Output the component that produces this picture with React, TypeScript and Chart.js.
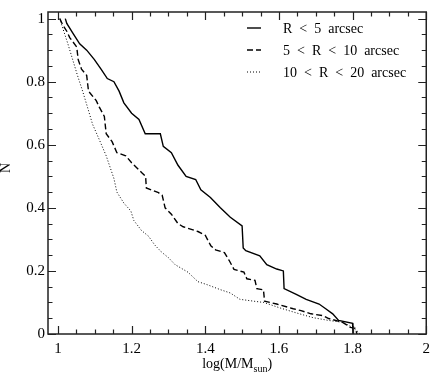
import React, { useEffect, useRef } from "react";
import { Chart, registerables } from "chart.js";

Chart.register(...registerables);

// R < 5 arcsec
const solidX = [1.020, 1.024, 1.040, 1.059, 1.078, 1.099, 1.117, 1.134, 1.152, 1.166, 1.179, 1.200, 1.220, 1.237, 1.278, 1.286, 1.308, 1.326, 1.348, 1.374, 1.388, 1.414, 1.441, 1.468, 1.500, 1.503, 1.510, 1.548, 1.567, 1.594, 1.612, 1.614, 1.647, 1.674, 1.709, 1.727, 1.746, 1.762, 1.800, 1.801];
const solidY = [1.000, 0.985, 0.955, 0.920, 0.900, 0.870, 0.840, 0.810, 0.800, 0.770, 0.733, 0.700, 0.680, 0.635, 0.635, 0.595, 0.575, 0.535, 0.500, 0.490, 0.457, 0.433, 0.400, 0.370, 0.343, 0.273, 0.264, 0.248, 0.220, 0.206, 0.200, 0.144, 0.126, 0.110, 0.095, 0.080, 0.064, 0.043, 0.034, 0.000];

// 5 < R < 10 arcsec
const dashX = [1.005, 1.013, 1.024, 1.032, 1.051, 1.055, 1.064, 1.078, 1.083, 1.104, 1.112, 1.126, 1.131, 1.147, 1.160, 1.184, 1.200, 1.227, 1.238, 1.240, 1.273, 1.283, 1.291, 1.308, 1.326, 1.340, 1.380, 1.400, 1.415, 1.428, 1.452, 1.465, 1.478, 1.505, 1.513, 1.535, 1.540, 1.558, 1.561, 1.594, 1.639, 1.660, 1.687, 1.720, 1.735, 1.773, 1.794, 1.807, 1.812];
const dashY = [1.000, 0.980, 0.960, 0.940, 0.910, 0.870, 0.840, 0.820, 0.770, 0.740, 0.720, 0.690, 0.635, 0.610, 0.575, 0.565, 0.543, 0.512, 0.500, 0.463, 0.448, 0.440, 0.400, 0.380, 0.350, 0.340, 0.325, 0.313, 0.280, 0.267, 0.258, 0.233, 0.205, 0.196, 0.175, 0.170, 0.144, 0.140, 0.104, 0.095, 0.080, 0.074, 0.064, 0.058, 0.049, 0.037, 0.021, 0.018, 0.000];

// 10 < R < 20 arcsec
const dotX = [1.005, 1.013, 1.027, 1.040, 1.053, 1.067, 1.080, 1.094, 1.112, 1.131, 1.152, 1.160, 1.179, 1.198, 1.206, 1.227, 1.246, 1.263, 1.281, 1.300, 1.318, 1.353, 1.380, 1.406, 1.440, 1.468, 1.494, 1.532, 1.559, 1.602, 1.647, 1.692, 1.735, 1.773, 1.800, 1.816, 1.820];
const dotY = [1.000, 0.970, 0.920, 0.870, 0.820, 0.770, 0.720, 0.665, 0.617, 0.565, 0.493, 0.450, 0.415, 0.390, 0.360, 0.328, 0.310, 0.282, 0.260, 0.242, 0.220, 0.196, 0.166, 0.156, 0.141, 0.130, 0.110, 0.104, 0.100, 0.083, 0.067, 0.052, 0.043, 0.037, 0.021, 0.006, 0.000];

const seriesLabels = ["R  <  5  arcsec", "5  <  R  <  10  arcsec", "10  <  R  <  20  arcsec"];
const xMajor = [1, 1.2, 1.4, 1.6, 1.8, 2];
const yMajor = [0, 0.2, 0.4, 0.6, 0.8, 1];
const X_MIN = 0.973, X_MAX = 2.0, Y_MIN = 0, Y_MAX = 1.021;

const FONT = '"Liberation Serif", "Times New Roman", serif';
const dashes = [[], [6, 3], [1, 2]];
const widths = [1.4, 1.4, 1];

const pts = (xs: number[], ys: number[]) => xs.map((x, i) => ({ x, y: ys[i] }));

const decor = {
  id: "decor",
  afterDraw(chart: any) {
    const { ctx, chartArea, scales } = chart;
    const { left, right, top, bottom } = chartArea;
    const xs = scales.x, ys = scales.y;
    ctx.save();
    ctx.strokeStyle = "#222";
    ctx.lineWidth = 1.5;
    ctx.strokeRect(left, top, right - left, bottom - top);
    ctx.lineWidth = 1.2;
    for (let i = 0; i <= 40; i++) {
      const v = Math.round((0.95 + i * 0.05) * 100) / 100;
      if (v < X_MIN || v > X_MAX) continue;
      const major = xMajor.some((m) => Math.abs(m - v) < 1e-6);
      const len = major ? 8 : 4.5;
      const px = Math.round(xs.getPixelForValue(v)) + 0.5;
      ctx.beginPath();
      ctx.moveTo(px, bottom); ctx.lineTo(px, bottom - len);
      ctx.moveTo(px, top); ctx.lineTo(px, top + len);
      ctx.stroke();
    }
    for (let i = 0; i <= 25; i++) {
      const v = Math.round(i * 0.05 * 100) / 100;
      if (v < Y_MIN || v > Y_MAX) continue;
      const major = yMajor.some((m) => Math.abs(m - v) < 1e-6);
      const len = major ? 8 : 4.5;
      const py = Math.round(ys.getPixelForValue(v)) + 0.5;
      ctx.beginPath();
      ctx.moveTo(left, py); ctx.lineTo(left + len, py);
      ctx.moveTo(right, py); ctx.lineTo(right - len, py);
      ctx.stroke();
    }
    // legend
    ctx.fillStyle = "#000";
    ctx.font = `14px ${FONT}`;
    ctx.textBaseline = "middle";
    ctx.textAlign = "left";
    const ly = [28, 50, 72];
    seriesLabels.forEach((lab, i) => {
      ctx.save();
      ctx.strokeStyle = "#000";
      ctx.lineWidth = widths[i];
      ctx.setLineDash(dashes[i]);
      ctx.beginPath();
      ctx.moveTo(247, ly[i]); ctx.lineTo(261, ly[i]);
      ctx.stroke();
      ctx.restore();
      ctx.fillText(lab, 283, ly[i] + 1);
    });
    // axis titles
    ctx.font = `14px ${FONT}`;
    const cx = (left + right) / 2;
    const p1 = "log(M/M", p2 = "sun", p3 = ")";
    const w1 = ctx.measureText(p1).width;
    const w3 = ctx.measureText(p3).width;
    ctx.font = `10px ${FONT}`;
    const w2 = ctx.measureText(p2).width;
    const sx = cx - (w1 + w2 + w3) / 2;
    const by = 368;
    ctx.textBaseline = "alphabetic";
    ctx.font = `14px ${FONT}`;
    ctx.fillText(p1, sx, by);
    ctx.font = `10px ${FONT}`;
    ctx.fillText(p2, sx + w1, by + 4);
    ctx.font = `14px ${FONT}`;
    ctx.fillText(p3, sx + w1 + w2, by);
    ctx.save();
    ctx.translate(6, 168);
    ctx.rotate(-Math.PI / 2);
    ctx.textAlign = "center";
    ctx.textBaseline = "middle";
    ctx.fillText("N", 0, 0);
    ctx.restore();
    ctx.restore();
  },
};

export default function App() {
  const ref = useRef<HTMLCanvasElement>(null);
  useEffect(() => {
    document.body.style.margin = "0";
    const chart = new Chart(ref.current as HTMLCanvasElement, {
      type: "line",
      data: {
        datasets: [
          { label: seriesLabels[0], data: pts(solidX, solidY) },
          { label: seriesLabels[1], data: pts(dashX, dashY) },
          { label: seriesLabels[2], data: pts(dotX, dotY) },
        ].map((d, i) => ({
          ...d,
          borderColor: "#000",
          borderWidth: widths[i],
          borderDash: dashes[i],
          pointRadius: 0,
          fill: false,
          tension: 0,
        })),
      },
      options: {
        animation: false,
        responsive: false,
        layout: { padding: { top: 1, right: 4, left: 0, bottom: 0 } },
        plugins: { legend: { display: false }, tooltip: { enabled: false } },
        scales: {
          x: {
            type: "linear",
            min: X_MIN,
            max: X_MAX,
            grid: { display: false, drawTicks: false },
            border: { display: false },
            afterBuildTicks: (s: any) => { s.ticks = xMajor.map((v) => ({ value: v })); },
            afterFit: (s: any) => { s.height = 48; },
            ticks: {
              padding: 6,
              color: "#000",
              font: { family: FONT, size: 15 },
              maxRotation: 0,
              callback: (v: any) => String(v),
            },
          },
          y: {
            type: "linear",
            min: Y_MIN,
            max: Y_MAX,
            grid: { display: false, drawTicks: false },
            border: { display: false },
            afterBuildTicks: (s: any) => { s.ticks = yMajor.map((v) => ({ value: v })); },
            afterFit: (s: any) => { s.width = 48; },
            ticks: {
              padding: 3,
              color: "#000",
              font: { family: FONT, size: 15 },
              callback: (v: any) => String(v),
            },
          },
        },
      },
      plugins: [decor],
    });
    return () => chart.destroy();
  }, []);
  return (
    <div style={{ position: "absolute", left: 0, top: 0, width: 436, height: 382 }}>
      <canvas ref={ref} width={436} height={382} />
    </div>
  );
}
